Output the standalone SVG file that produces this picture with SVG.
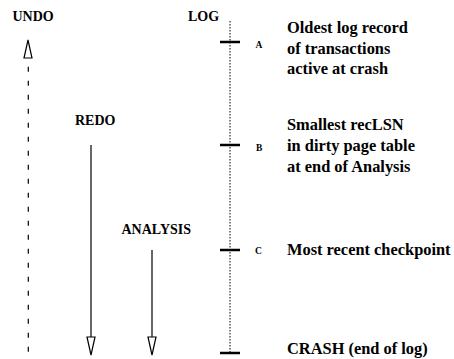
<svg xmlns="http://www.w3.org/2000/svg" width="454" height="359" viewBox="0 0 454 359">
<style>
.t{font-family:'Liberation Serif','DejaVu Serif',serif;font-weight:bold;fill:#000}
.lbl{font-size:14px}
.big{font-size:16.4px}
.sm{font-size:9.5px}
.tick{stroke:#000;stroke-width:2.5}
.ln{stroke:#000;stroke-width:1.2;fill:none}
.head{fill:#fff;stroke:#000;stroke-width:1.2}
</style>
<rect width="454" height="359" fill="#fff"/>
<g id="log">
<text class="t lbl" x="188" y="21">LOG</text>
<line x1="230" y1="21" x2="230" y2="353" stroke="#000" stroke-width="1" stroke-dasharray="1.5,1.5"/>
</g>
<g id="nodeA">
<line class="tick" x1="220" y1="42" x2="240" y2="42"/>
<text class="t sm" x="255.5" y="47.5">A</text>
<text class="t big" x="287" y="33">Oldest log record</text>
<text class="t big" x="287" y="53.5">of transactions</text>
<text class="t big" x="287" y="74">active at crash</text>
</g>
<g id="nodeB">
<line class="tick" x1="220" y1="145" x2="240" y2="145"/>
<text class="t sm" x="256" y="150.5">B</text>
<text class="t big" x="287" y="130">Smallest recLSN</text>
<text class="t big" x="287" y="151">in dirty page table</text>
<text class="t big" x="287" y="172">at end of Analysis</text>
</g>
<g id="nodeC">
<line class="tick" x1="220" y1="250" x2="240" y2="250"/>
<text class="t sm" x="255" y="254">C</text>
<text class="t big" x="287" y="255">Most recent checkpoint</text>
</g>
<g id="crash">
<line class="tick" x1="220" y1="353" x2="240" y2="353"/>
<text class="t big" x="287" y="354">CRASH (end of log)</text>
</g>
<g id="undo">
<text class="t lbl" x="12.5" y="20.5">UNDO</text>
</g>
<g id="redo">
<text class="t lbl" x="75" y="125">REDO</text>
</g>
<g id="analysis">
<text class="t lbl" x="121.5" y="234">ANALYSIS</text>
</g>
<g id="connectors">
<line x1="28.3" y1="66.7" x2="28.3" y2="353" stroke="#000" stroke-width="1.2" stroke-dasharray="5,9"/>
<polygon class="head" points="28,40 24,58 32,58"/>
<line class="ln" x1="91" y1="145" x2="91" y2="337"/>
<polygon class="head" points="91,355 87,337 95,337"/>
<line class="ln" x1="152" y1="250" x2="152" y2="337"/>
<polygon class="head" points="152,355 148,337 156,337"/>
</g>
</svg>
